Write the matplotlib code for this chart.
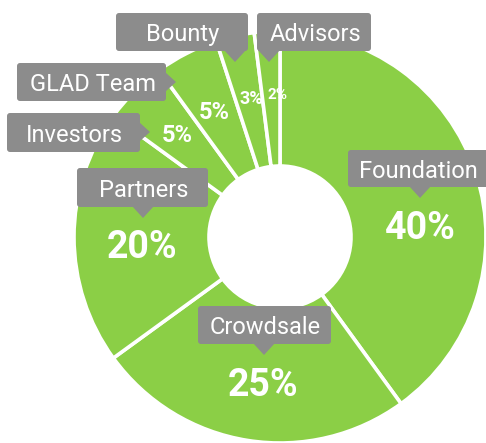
import matplotlib.pyplot as plt
from matplotlib.patches import FancyBboxPatch, Polygon

# data
labels = ["Foundation", "Crowdsale", "Partners", "Investors", "GLAD Team", "Bounty", "Advisors"]
shares = [40, 25, 20, 5, 5, 3, 2]

W, H = 486, 443
GREEN = '#8bcf46'
GRAY = '#8c8c8c'

def py(y):  # pixel row -> data y
    return H - y

fig = plt.figure(figsize=(W / 100, H / 100), dpi=100)
ax = fig.add_axes([0, 0, 1, 1])

ax.pie(shares, startangle=90, counterclock=False, center=(280, py(237)), radius=206,
       colors=[GREEN] * len(shares),
       wedgeprops=dict(width=135, edgecolor='white', linewidth=2.6))
ax.set_xlim(0, W)
ax.set_ylim(0, H)
ax.axis('off')

# callout boxes: x0, y0, x1, y1 (pixels), pointer side, pointer tip
boxes = {
    "Foundation": (348, 150, 490, 187, 'down', (420, 198)),
    "Crowdsale": (198, 306, 331, 344, 'down', (264, 355)),
    "Partners": (77, 168, 208, 207, 'down', (143, 218)),
    "Investors": (7, 113, 140, 152, 'right', (150, 132)),
    "GLAD Team": (17, 63, 166, 101, 'right', (176, 82)),
    "Bounty": (116, 13, 248, 51, 'down', (235, 62)),
    "Advisors": (257, 13, 371, 51, 'down', (269, 62)),
}

for name in labels:
    x0, y0, x1, y1, side, (tx, ty) = boxes[name]
    ax.add_patch(FancyBboxPatch((x0, py(y1)), x1 - x0, y1 - y0,
                                boxstyle="round,pad=0,rounding_size=3",
                                fc=GRAY, ec='none', zorder=5))
    if side == 'down':
        tri = [(tx - 11, py(y1) + 1), (tx + 11, py(y1) + 1), (tx, py(ty))]
    else:
        tri = [(x1 - 1, py(ty - 10)), (x1 - 1, py(ty + 10)), (tx, py(ty))]
    ax.add_patch(Polygon(tri, closed=True, fc=GRAY, ec='none', zorder=5))
    ax.text((x0 + min(x1, W)) / 2 + 1, py((y0 + y1) / 2), name, color='white',
            fontsize=17, family='Roboto', ha='center', va='center_baseline', zorder=6)

# percentage labels: x, y (pixels), font size
pct_pos = {
    "Foundation": (420, 224, 27),
    "Crowdsale": (263, 382, 27),
    "Partners": (142, 244, 27),
    "Investors": (177, 133, 17),
    "GLAD Team": (214, 110, 17),
    "Bounty": (251, 97, 13),
    "Advisors": (277, 93, 11),
}
for name, val in zip(labels, shares):
    x, y, fs = pct_pos[name]
    ax.text(x, py(y), f"{val}%", color='white', fontsize=fs, fontweight='bold',
            family='Roboto', ha='center', va='center_baseline', zorder=6)

fig.savefig('out.png', dpi=100)
